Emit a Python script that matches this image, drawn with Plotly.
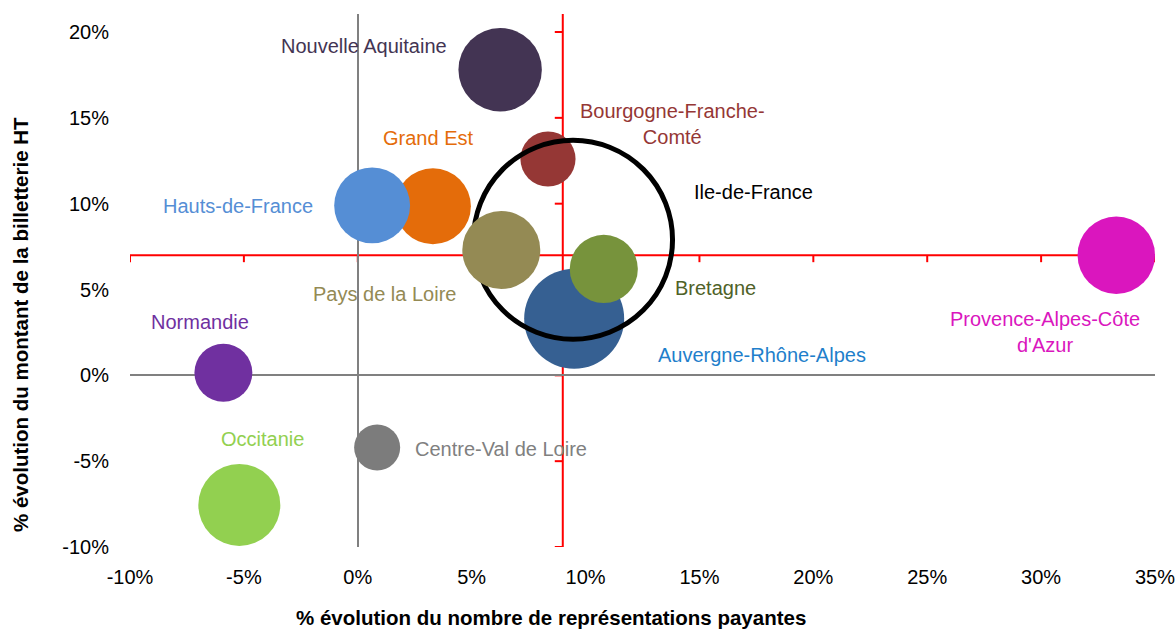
import plotly.graph_objects as go

# ---------------- data ----------------
regions = [
    "Nouvelle Aquitaine", "Bourgogne-Franche-<br>Comté", "Grand Est", "Hauts-de-France",
    "Auvergne-Rhône-Alpes", "Ile-de-France", "Pays de la Loire", "Bretagne",
    "Provence-Alpes-Côte<br>d'Azur", "Normandie", "Occitanie", "Centre-Val de Loire",
]
evol_representations = [6.25, 8.35, 3.3, 0.63, 9.5, 9.45, 6.3, 10.8, 33.3, -5.9, -5.2, 0.85]   # % x
evol_billetterie = [17.8, 12.6, 9.85, 9.9, 3.3, 7.9, 7.3, 6.2, 7.0, 0.15, -7.55, -4.2]          # % y
bubble_weight = [17.4, 7.6, 14.4, 14.4, 25.0, 99.0, 15.2, 11.6, 15.0, 8.4, 16.8, 5.3]

ref_representations = 9.0   # red vertical reference
ref_billetterie = 7.0       # red horizontal reference

x_ticks = [-10, -5, 0, 5, 10, 15, 20, 25, 30, 35]
y_ticks = [-10, -5, 0, 5, 10, 15, 20]

# ---------------- styles ----------------
FONT = "Liberation Sans, Arial, sans-serif"
fill_colors = ["#433453", "#953735", "#E46C0A", "#558ED5", "#366092", "rgba(0,0,0,0)",
               "#948A54", "#77933C", "#DA16BE", "#7030A0", "#92D050", "#7C7C7C"]
line_widths = [0, 0, 0, 0, 0, 5, 0, 0, 0, 0, 0, 0]
label_colors = ["#433453", "#953735", "#E46C0A", "#558ED5", "#1F7FCB", "#000000",
                "#948A54", "#4F6228", "#DA16BE", "#7030A0", "#92D050", "#808080"]
# label offsets in pixels (dx, dy up)
label_offsets = [(-136, 24), (125, 35), (-5, 68), (-134, -1), (188, -36), (180, 48),
                 (-117, -44), (112, -19), (-71, -77), (-23, 51), (23, 66), (124, -2)]

XR = [-10, 35]
YR = [-10, 21.05]

fig = go.Figure()
fig.add_trace(go.Scatter(
    x=evol_representations, y=evol_billetterie, mode="markers",
    marker=dict(size=bubble_weight, sizemode="area", sizeref=0.005,
                color=fill_colors, opacity=1,
                line=dict(width=line_widths, color="#000000")),
    hoverinfo="text", hovertext=regions, showlegend=False, cliponaxis=False,
))

red = "#FF0000"
shapes = [
    dict(type="line", xref="x", yref="y", x0=XR[0], x1=XR[1],
         y0=ref_billetterie, y1=ref_billetterie, line=dict(color=red, width=2), layer="below"),
    dict(type="line", xref="x", yref="y", x0=ref_representations, x1=ref_representations,
         y0=YR[0], y1=YR[1], line=dict(color=red, width=2), layer="below"),
]
for xt in x_ticks:
    shapes.append(dict(type="line", xref="x", yref="y", x0=xt, x1=xt,
                       ysizemode="pixel", yanchor=ref_billetterie, y0=-7, y1=0,
                       line=dict(color=red, width=2), layer="below"))
for yt in y_ticks:
    shapes.append(dict(type="line", xref="x", yref="y", y0=yt, y1=yt,
                       xsizemode="pixel", xanchor=ref_representations, x0=-8, x1=0,
                       line=dict(color=red, width=2), layer="below"))

W, H = 1176, 630
L, R, T, B = 130, 21, 14, 83
PW, PH = W - L - R, H - T - B

annotations = []
for name, x, y, c, (dx, dy) in zip(regions, evol_representations, evol_billetterie, label_colors, label_offsets):
    annotations.append(dict(x=x, y=y, xref="x", yref="y", text=name, showarrow=False,
                            xshift=dx, yshift=dy, font=dict(family=FONT, size=20, color=c),
                            align="center", xanchor="center", yanchor="middle"))
annotations.append(dict(x=(551 - L) / PW, y=(H - B - 617) / PH, xref="paper", yref="paper",
                        xanchor="center", yanchor="middle",
                        text="<b>% évolution du nombre de représentations payantes</b>",
                        showarrow=False, font=dict(family=FONT, size=20.5, color="#000")))
annotations.append(dict(x=(20 - L) / PW, y=(H - B - 325) / PH, xref="paper", yref="paper",
                        xanchor="center", yanchor="middle",
                        text="<b>% évolution du montant de la billetterie HT</b>",
                        showarrow=False, textangle=-90, font=dict(family=FONT, size=20.5, color="#000")))

fig.update_layout(
    width=W, height=H, margin=dict(l=L, r=R, t=T, b=B, autoexpand=False),
    paper_bgcolor="white", plot_bgcolor="white",
    font=dict(family=FONT, size=20, color="#000"),
    shapes=shapes, annotations=annotations,
    xaxis=dict(range=XR, tickvals=x_ticks, ticktext=[f"{v}%" for v in x_ticks], automargin=False,
               showgrid=False, showline=False, zeroline=True, zerolinecolor="#808080", zerolinewidth=2,
               ticks="outside", ticklen=12, tickcolor="rgba(0,0,0,0)", fixedrange=True),
    yaxis=dict(range=YR, tickvals=y_ticks, ticktext=[f"{v}%" for v in y_ticks], automargin=False,
               showgrid=False, showline=False, zeroline=True, zerolinecolor="#808080", zerolinewidth=2,
               ticks="outside", ticklen=16, tickcolor="rgba(0,0,0,0)", fixedrange=True),
)
fig.write_html("out.html", config={"displayModeBar": False},
               post_script="document.body.style.margin='0px';document.body.style.overflow='hidden';")
